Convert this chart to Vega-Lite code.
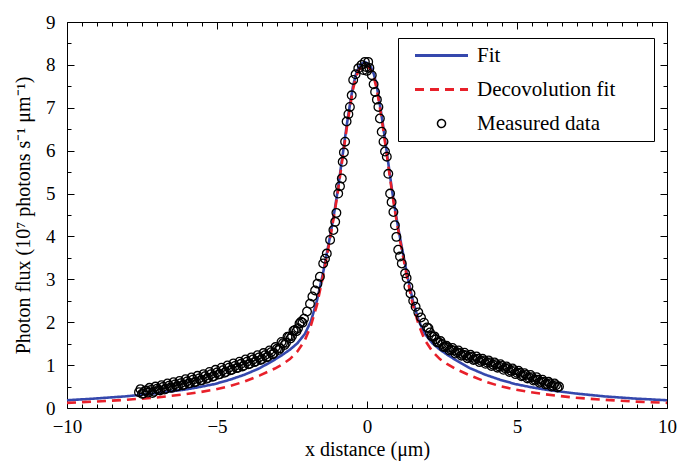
{
  "$schema": "https://vega.github.io/schema/vega-lite/v6.json",
  "width": 600,
  "height": 386,
  "autosize": "none",
  "padding": {"left": 67, "top": 22, "right": 10, "bottom": 53},
  "background": "white",
  "datasets": {
    "fits": [
      {"x":-10,"y":0.18,"series":"Fit"},{"x":-9.07,"y":0.22,"series":"Fit"},{"x":-8.07,"y":0.27,"series":"Fit"},{"x":-7.07,"y":0.34,"series":"Fit"},{"x":-6.07,"y":0.43,"series":"Fit"},{"x":-5.57,"y":0.49,"series":"Fit"},{"x":-5.07,"y":0.56,"series":"Fit"},{"x":-4.57,"y":0.66,"series":"Fit"},{"x":-4.07,"y":0.78,"series":"Fit"},{"x":-3.57,"y":0.93,"series":"Fit"},{"x":-3.07,"y":1.13,"series":"Fit"},{"x":-2.82,"y":1.24,"series":"Fit"},{"x":-2.57,"y":1.36,"series":"Fit"},{"x":-2.32,"y":1.51,"series":"Fit"},{"x":-2.07,"y":1.73,"series":"Fit"},{"x":-1.87,"y":2.02,"series":"Fit"},{"x":-1.67,"y":2.50,"series":"Fit"},{"x":-1.47,"y":3.13,"series":"Fit"},{"x":-1.27,"y":3.86,"series":"Fit"},{"x":-1.17,"y":4.24,"series":"Fit"},{"x":-1.07,"y":4.65,"series":"Fit"},{"x":-0.97,"y":5.10,"series":"Fit"},{"x":-0.87,"y":5.61,"series":"Fit"},{"x":-0.77,"y":6.11,"series":"Fit"},{"x":-0.67,"y":6.62,"series":"Fit"},{"x":-0.57,"y":7.07,"series":"Fit"},{"x":-0.47,"y":7.49,"series":"Fit"},{"x":-0.37,"y":7.78,"series":"Fit"},{"x":-0.27,"y":7.95,"series":"Fit"},{"x":-0.17,"y":8.03,"series":"Fit"},{"x":-0.07,"y":8.07,"series":"Fit"},{"x":0.03,"y":8.03,"series":"Fit"},{"x":0.13,"y":7.95,"series":"Fit"},{"x":0.23,"y":7.78,"series":"Fit"},{"x":0.33,"y":7.49,"series":"Fit"},{"x":0.43,"y":7.07,"series":"Fit"},{"x":0.53,"y":6.62,"series":"Fit"},{"x":0.63,"y":6.11,"series":"Fit"},{"x":0.73,"y":5.61,"series":"Fit"},{"x":0.83,"y":5.10,"series":"Fit"},{"x":0.93,"y":4.65,"series":"Fit"},{"x":1.03,"y":4.24,"series":"Fit"},{"x":1.13,"y":3.86,"series":"Fit"},{"x":1.33,"y":3.13,"series":"Fit"},{"x":1.53,"y":2.50,"series":"Fit"},{"x":1.73,"y":2.02,"series":"Fit"},{"x":1.93,"y":1.73,"series":"Fit"},{"x":2.18,"y":1.51,"series":"Fit"},{"x":2.43,"y":1.36,"series":"Fit"},{"x":2.68,"y":1.24,"series":"Fit"},{"x":2.93,"y":1.13,"series":"Fit"},{"x":3.43,"y":0.93,"series":"Fit"},{"x":3.93,"y":0.78,"series":"Fit"},{"x":4.43,"y":0.66,"series":"Fit"},{"x":4.93,"y":0.56,"series":"Fit"},{"x":5.43,"y":0.49,"series":"Fit"},{"x":5.93,"y":0.43,"series":"Fit"},{"x":6.93,"y":0.34,"series":"Fit"},{"x":7.93,"y":0.27,"series":"Fit"},{"x":8.93,"y":0.22,"series":"Fit"},{"x":10,"y":0.18,"series":"Fit"},
      {"x":-10,"y":0.12,"series":"Decovolution fit"},{"x":-9.07,"y":0.15,"series":"Decovolution fit"},{"x":-8.07,"y":0.19,"series":"Decovolution fit"},{"x":-7.07,"y":0.24,"series":"Decovolution fit"},{"x":-6.07,"y":0.32,"series":"Decovolution fit"},{"x":-5.57,"y":0.37,"series":"Decovolution fit"},{"x":-5.07,"y":0.43,"series":"Decovolution fit"},{"x":-4.57,"y":0.51,"series":"Decovolution fit"},{"x":-4.07,"y":0.62,"series":"Decovolution fit"},{"x":-3.57,"y":0.76,"series":"Decovolution fit"},{"x":-3.07,"y":0.92,"series":"Decovolution fit"},{"x":-2.82,"y":1.02,"series":"Decovolution fit"},{"x":-2.57,"y":1.14,"series":"Decovolution fit"},{"x":-2.32,"y":1.32,"series":"Decovolution fit"},{"x":-2.07,"y":1.58,"series":"Decovolution fit"},{"x":-1.87,"y":1.92,"series":"Decovolution fit"},{"x":-1.67,"y":2.40,"series":"Decovolution fit"},{"x":-1.47,"y":3.06,"series":"Decovolution fit"},{"x":-1.27,"y":3.80,"series":"Decovolution fit"},{"x":-1.17,"y":4.19,"series":"Decovolution fit"},{"x":-1.07,"y":4.60,"series":"Decovolution fit"},{"x":-0.97,"y":5.05,"series":"Decovolution fit"},{"x":-0.87,"y":5.55,"series":"Decovolution fit"},{"x":-0.77,"y":6.05,"series":"Decovolution fit"},{"x":-0.67,"y":6.55,"series":"Decovolution fit"},{"x":-0.57,"y":7.00,"series":"Decovolution fit"},{"x":-0.47,"y":7.42,"series":"Decovolution fit"},{"x":-0.37,"y":7.71,"series":"Decovolution fit"},{"x":-0.27,"y":7.88,"series":"Decovolution fit"},{"x":-0.17,"y":7.96,"series":"Decovolution fit"},{"x":-0.07,"y":8.00,"series":"Decovolution fit"},{"x":0.03,"y":7.96,"series":"Decovolution fit"},{"x":0.13,"y":7.88,"series":"Decovolution fit"},{"x":0.23,"y":7.71,"series":"Decovolution fit"},{"x":0.33,"y":7.42,"series":"Decovolution fit"},{"x":0.43,"y":7.00,"series":"Decovolution fit"},{"x":0.53,"y":6.55,"series":"Decovolution fit"},{"x":0.63,"y":6.05,"series":"Decovolution fit"},{"x":0.73,"y":5.55,"series":"Decovolution fit"},{"x":0.83,"y":5.05,"series":"Decovolution fit"},{"x":0.93,"y":4.60,"series":"Decovolution fit"},{"x":1.03,"y":4.19,"series":"Decovolution fit"},{"x":1.13,"y":3.80,"series":"Decovolution fit"},{"x":1.33,"y":3.06,"series":"Decovolution fit"},{"x":1.53,"y":2.40,"series":"Decovolution fit"},{"x":1.73,"y":1.92,"series":"Decovolution fit"},{"x":1.93,"y":1.58,"series":"Decovolution fit"},{"x":2.18,"y":1.32,"series":"Decovolution fit"},{"x":2.43,"y":1.14,"series":"Decovolution fit"},{"x":2.68,"y":1.02,"series":"Decovolution fit"},{"x":2.93,"y":0.92,"series":"Decovolution fit"},{"x":3.43,"y":0.76,"series":"Decovolution fit"},{"x":3.93,"y":0.62,"series":"Decovolution fit"},{"x":4.43,"y":0.51,"series":"Decovolution fit"},{"x":4.93,"y":0.43,"series":"Decovolution fit"},{"x":5.43,"y":0.37,"series":"Decovolution fit"},{"x":5.93,"y":0.32,"series":"Decovolution fit"},{"x":6.93,"y":0.24,"series":"Decovolution fit"},{"x":7.93,"y":0.19,"series":"Decovolution fit"},{"x":8.93,"y":0.15,"series":"Decovolution fit"},{"x":10,"y":0.12,"series":"Decovolution fit"}
    ],
    "measured": [
      {"x":-7.6,"y":0.37},{"x":-7.5,"y":0.33},{"x":-7.4,"y":0.40},{"x":-7.3,"y":0.36},{"x":-7.2,"y":0.42},{"x":-7.1,"y":0.38},{"x":-7.0,"y":0.45},{"x":-6.9,"y":0.41},{"x":-6.8,"y":0.49},{"x":-6.7,"y":0.45},{"x":-6.6,"y":0.52},{"x":-6.5,"y":0.47},{"x":-6.4,"y":0.55},{"x":-6.3,"y":0.51},{"x":-6.2,"y":0.58},{"x":-6.1,"y":0.54},{"x":-6.0,"y":0.62},{"x":-5.9,"y":0.58},{"x":-5.8,"y":0.66},{"x":-5.7,"y":0.61},{"x":-5.6,"y":0.69},{"x":-5.5,"y":0.65},{"x":-5.4,"y":0.74},{"x":-5.3,"y":0.70},{"x":-5.2,"y":0.79},{"x":-5.1,"y":0.74},{"x":-5.0,"y":0.83},{"x":-4.9,"y":0.79},{"x":-4.8,"y":0.88},{"x":-4.7,"y":0.84},{"x":-4.6,"y":0.94},{"x":-4.5,"y":0.89},{"x":-4.4,"y":0.98},{"x":-4.3,"y":0.94},{"x":-4.2,"y":1.03},{"x":-4.1,"y":0.99},{"x":-4.0,"y":1.08},{"x":-3.9,"y":1.03},{"x":-3.8,"y":1.13},{"x":-3.7,"y":1.09},{"x":-3.6,"y":1.18},{"x":-3.5,"y":1.14},{"x":-3.4,"y":1.23},{"x":-3.3,"y":1.20},{"x":-3.2,"y":1.30},{"x":-3.1,"y":1.28},{"x":-3.0,"y":1.38},{"x":-2.9,"y":1.39},{"x":-2.8,"y":1.51},{"x":-2.7,"y":1.52},{"x":-2.6,"y":1.66},{"x":-2.5,"y":1.68},{"x":-2.4,"y":1.82},{"x":-2.3,"y":1.86},{"x":-2.2,"y":2.01},{"x":-2.1,"y":2.08},
      {"x":-7.55,"y":0.44},{"x":-7.45,"y":0.34},{"x":-7.35,"y":0.41},{"x":-7.25,"y":0.47},{"x":-7.15,"y":0.35},{"x":-7.05,"y":0.50},{"x":-6.95,"y":0.42},{"x":-6.85,"y":0.53},{"x":-6.75,"y":0.43},{"x":-6.65,"y":0.57},{"x":-6.55,"y":0.48},{"x":-6.45,"y":0.60},{"x":-6.35,"y":0.50},{"x":-6.25,"y":0.63},{"x":-6.15,"y":0.53},{"x":-6.05,"y":0.67},{"x":-5.95,"y":0.57},{"x":-5.85,"y":0.71},{"x":-5.75,"y":0.60},{"x":-5.65,"y":0.75},{"x":-5.55,"y":0.64},{"x":-5.45,"y":0.79},{"x":-5.35,"y":0.68},{"x":-5.25,"y":0.84},{"x":-5.15,"y":0.73},{"x":-5.05,"y":0.89},{"x":-4.95,"y":0.78},{"x":-4.85,"y":0.94},{"x":-4.75,"y":0.82},{"x":-4.65,"y":0.99},{"x":-4.55,"y":0.88},{"x":-4.45,"y":1.04},{"x":-4.35,"y":0.93},{"x":-4.25,"y":1.08},{"x":-4.15,"y":0.97},{"x":-4.05,"y":1.13},{"x":-3.95,"y":1.02},{"x":-3.85,"y":1.18},{"x":-3.75,"y":1.07},{"x":-3.65,"y":1.23},{"x":-3.55,"y":1.12},{"x":-3.45,"y":1.28},{"x":-3.35,"y":1.18},{"x":-3.25,"y":1.34},{"x":-3.15,"y":1.25},{"x":-3.05,"y":1.42},{"x":-2.95,"y":1.35},{"x":-2.85,"y":1.54},{"x":-2.75,"y":1.47},{"x":-2.65,"y":1.66},{"x":-2.55,"y":1.62},{"x":-2.45,"y":1.80},{"x":-2.35,"y":1.79},{"x":-2.25,"y":1.97},{"x":-2.15,"y":1.99},
      {"x":-2.0,"y":2.25},{"x":-1.9,"y":2.43},{"x":-1.82,"y":2.60},{"x":-1.73,"y":2.74},{"x":-1.65,"y":2.90},{"x":-1.57,"y":3.06},{"x":-1.46,"y":3.37},{"x":-1.40,"y":3.48},{"x":-1.34,"y":3.60},{"x":-1.23,"y":3.92},{"x":-1.12,"y":4.15},{"x":-1.06,"y":4.34},{"x":-1.02,"y":4.55},{"x":-0.96,"y":5.00},{"x":-0.90,"y":5.17},{"x":-0.84,"y":5.35},{"x":-0.81,"y":5.74},{"x":-0.77,"y":5.96},{"x":-0.73,"y":6.21},{"x":-0.68,"y":6.68},{"x":-0.62,"y":6.85},{"x":-0.57,"y":7.02},{"x":-0.51,"y":7.29},{"x":-0.46,"y":7.65},{"x":-0.38,"y":7.78},{"x":-0.29,"y":7.92},{"x":-0.18,"y":8.00},{"x":-0.07,"y":8.07},{"x":-0.12,"y":7.88},{"x":-0.03,"y":7.95},{"x":0.0,"y":7.86},{"x":0.04,"y":8.07},{"x":0.08,"y":7.93},
      {"x":0.16,"y":7.76},{"x":0.22,"y":7.55},{"x":0.27,"y":7.37},{"x":0.33,"y":7.19},{"x":0.38,"y":7.02},{"x":0.43,"y":6.75},{"x":0.49,"y":6.44},{"x":0.55,"y":6.21},{"x":0.60,"y":5.98},{"x":0.66,"y":5.86},{"x":0.71,"y":5.46},{"x":0.77,"y":5.00},{"x":0.82,"y":4.80},{"x":0.88,"y":4.57},{"x":0.93,"y":4.26},{"x":0.98,"y":3.99},{"x":1.04,"y":3.69},{"x":1.10,"y":3.53},{"x":1.16,"y":3.37},{"x":1.27,"y":3.14},{"x":1.32,"y":3.03},{"x":1.38,"y":2.83},{"x":1.45,"y":2.67},{"x":1.54,"y":2.50},{"x":1.62,"y":2.36},{"x":1.71,"y":2.23},{"x":1.80,"y":2.11},{"x":1.90,"y":1.99},
      {"x":2.0,"y":1.88},{"x":2.1,"y":1.76},{"x":2.2,"y":1.66},{"x":2.3,"y":1.60},{"x":2.4,"y":1.53},{"x":2.5,"y":1.49},{"x":2.6,"y":1.43},{"x":2.7,"y":1.41},{"x":2.8,"y":1.36},{"x":2.9,"y":1.34},{"x":3.0,"y":1.30},{"x":3.1,"y":1.28},{"x":3.2,"y":1.24},{"x":3.3,"y":1.23},{"x":3.4,"y":1.19},{"x":3.5,"y":1.19},{"x":3.6,"y":1.14},{"x":3.7,"y":1.15},{"x":3.8,"y":1.10},{"x":3.9,"y":1.11},{"x":4.0,"y":1.06},{"x":4.1,"y":1.06},{"x":4.2,"y":1.01},{"x":4.3,"y":1.02},{"x":4.4,"y":0.97},{"x":4.5,"y":0.98},{"x":4.6,"y":0.93},{"x":4.7,"y":0.93},{"x":4.8,"y":0.87},{"x":4.9,"y":0.88},{"x":5.0,"y":0.82},{"x":5.1,"y":0.82},{"x":5.2,"y":0.76},{"x":5.3,"y":0.77},{"x":5.4,"y":0.71},{"x":5.5,"y":0.72},{"x":5.6,"y":0.66},{"x":5.7,"y":0.66},{"x":5.8,"y":0.61},{"x":5.9,"y":0.61},{"x":6.0,"y":0.56},{"x":6.1,"y":0.57},{"x":6.2,"y":0.52},{"x":6.3,"y":0.53},{"x":6.4,"y":0.50},
      {"x":2.05,"y":1.86},{"x":2.15,"y":1.68},{"x":2.25,"y":1.67},{"x":2.35,"y":1.53},{"x":2.45,"y":1.56},{"x":2.55,"y":1.42},{"x":2.65,"y":1.45},{"x":2.75,"y":1.34},{"x":2.85,"y":1.40},{"x":2.95,"y":1.27},{"x":3.05,"y":1.34},{"x":3.15,"y":1.22},{"x":3.25,"y":1.29},{"x":3.35,"y":1.16},{"x":3.45,"y":1.24},{"x":3.55,"y":1.12},{"x":3.65,"y":1.20},{"x":3.75,"y":1.07},{"x":3.85,"y":1.15},{"x":3.95,"y":1.03},{"x":4.05,"y":1.11},{"x":4.15,"y":0.98},{"x":4.25,"y":1.06},{"x":4.35,"y":0.94},{"x":4.45,"y":1.02},{"x":4.55,"y":0.89},{"x":4.65,"y":0.97},{"x":4.75,"y":0.84},{"x":4.85,"y":0.92},{"x":4.95,"y":0.79},{"x":5.05,"y":0.87},{"x":5.15,"y":0.74},{"x":5.25,"y":0.81},{"x":5.35,"y":0.69},{"x":5.45,"y":0.77},{"x":5.55,"y":0.64},{"x":5.65,"y":0.72},{"x":5.75,"y":0.59},{"x":5.85,"y":0.66},{"x":5.95,"y":0.55},{"x":6.05,"y":0.61},{"x":6.15,"y":0.50},{"x":6.25,"y":0.57},{"x":6.35,"y":0.48}
    ]
  },
  "config": {
    "view": {"stroke": "black", "strokeWidth": 1},
    "axis": {
      "labelFont": "Liberation Serif", "titleFont": "Liberation Serif",
      "labelFontSize": 19, "titleFontSize": 20, "titleFontWeight": "normal",
      "labelColor": "black", "titleColor": "black", "tickColor": "black",
      "grid": false, "domain": false, "tickWidth": 1, "labelOverlap": false
    }
  },
  "resolve": {"axis": {"x": "independent", "y": "independent"}},
  "layer": [
    {
      "data": {"name": "fits"},
      "mark": {"type": "line", "strokeWidth": 2.6},
      "encoding": {
        "x": {"field": "x", "type": "quantitative",
              "scale": {"domain": [-10, 10], "nice": false, "zero": false},
              "axis": {"orient": "bottom", "values": [-10, -5, 0, 5, 10], "tickSize": -7, "labelPadding": 16, "labelFlush": false, "title": "x distance (μm)", "titleY": 47, "titleBaseline": "alphabetic"}},
        "y": {"field": "y", "type": "quantitative",
              "scale": {"domain": [0, 9], "nice": false, "zero": false},
              "axis": {"orient": "left", "values": [0,1,2,3,4,5,6,7,8,9], "tickSize": -7, "labelPadding": 19, "title": "Photon flux (10⁷ photons s⁻¹ μm⁻¹)", "titlePadding": 12}},
        "color": {"field": "series", "type": "nominal",
                  "scale": {"domain": ["Fit", "Decovolution fit", "Measured data"], "range": ["#3548ad", "#e8202a", "#000000"]},
                  "legend": {
                    "orient": "none", "legendX": 331, "legendY": 16, "title": "MM",
                    "titleOrient": "right", "titleColor": "transparent", "titleFontSize": 16, "titlePadding": 5,
                    "padding": 7, "strokeColor": "black", "fillColor": "white",
                    "labelFont": "Liberation Serif", "labelFontSize": 21, "labelColor": "black", "labelLimit": 400,
                    "symbolSize": 64, "symbolStrokeWidth": 2.5, "symbolOffset": 26, "labelOffset": 25, "rowPadding": 12,
                    "encode": {"symbols": {"update": {
                      "shape": {"signal": "datum.value === 'Measured data' ? 'circle' : 'stroke'"},
                      "size": {"signal": "datum.value === 'Measured data' ? 64 : 2809"},
                      "strokeWidth": {"signal": "datum.value === 'Measured data' ? 1.5 : 2.8"},
                      "strokeDash": {"signal": "datum.value === 'Decovolution fit' ? [9, 6] : [1, 0]"},
                      "fill": {"value": "transparent"}
                    }}}
                  }},
        "strokeDash": {"field": "series", "type": "nominal",
                       "scale": {"domain": ["Fit", "Decovolution fit"], "range": [[1, 0], [9, 6]]},
                       "legend": null}
      }
    },
    {
      "data": {"name": "measured"},
      "transform": [{"calculate": "'Measured data'", "as": "series"}],
      "mark": {"type": "point", "filled": false, "size": 75, "strokeWidth": 1.3, "opacity": 1},
      "encoding": {
        "x": {"field": "x", "type": "quantitative",
              "scale": {"domain": [-10, 10], "nice": false, "zero": false},
              "axis": {"orient": "top", "values": [-10, -5, 0, 5, 10], "tickSize": -7, "labels": false, "title": null}},
        "y": {"field": "y", "type": "quantitative",
              "scale": {"domain": [0, 9], "nice": false, "zero": false},
              "axis": {"orient": "right", "values": [0,1,2,3,4,5,6,7,8,9], "tickSize": -7, "labels": false, "title": null}},
        "color": {"field": "series", "type": "nominal",
                  "scale": {"domain": ["Fit", "Decovolution fit", "Measured data"], "range": ["#3548ad", "#e8202a", "#000000"]}}
      }
    },
    {
      "data": {"name": "fits"},
      "mark": {"type": "point", "opacity": 0},
      "encoding": {
        "x": {"field": "x", "type": "quantitative",
              "scale": {"domain": [-10, 10], "nice": false, "zero": false},
              "axis": {"orient": "bottom", "values": [-9.5,-9,-8.5,-8,-7.5,-7,-6.5,-6,-5.5,-4.5,-4,-3.5,-3,-2.5,-2,-1.5,-1,-0.5,0.5,1,1.5,2,2.5,3,3.5,4,4.5,5.5,6,6.5,7,7.5,8,8.5,9,9.5], "tickSize": -4, "labels": false, "title": null}},
        "y": {"field": "y", "type": "quantitative",
              "scale": {"domain": [0, 9], "nice": false, "zero": false},
              "axis": {"orient": "left", "values": [0.5,1.5,2.5,3.5,4.5,5.5,6.5,7.5,8.5], "tickSize": -4, "labels": false, "title": null}}
      }
    },
    {
      "data": {"name": "fits"},
      "mark": {"type": "point", "opacity": 0},
      "encoding": {
        "x": {"field": "x", "type": "quantitative",
              "scale": {"domain": [-10, 10], "nice": false, "zero": false},
              "axis": {"orient": "top", "values": [-9.5,-9,-8.5,-8,-7.5,-7,-6.5,-6,-5.5,-4.5,-4,-3.5,-3,-2.5,-2,-1.5,-1,-0.5,0.5,1,1.5,2,2.5,3,3.5,4,4.5,5.5,6,6.5,7,7.5,8,8.5,9,9.5], "tickSize": -4, "labels": false, "title": null}},
        "y": {"field": "y", "type": "quantitative",
              "scale": {"domain": [0, 9], "nice": false, "zero": false},
              "axis": {"orient": "right", "values": [0.5,1.5,2.5,3.5,4.5,5.5,6.5,7.5,8.5], "tickSize": -4, "labels": false, "title": null}}
      }
    }
  ]
}
